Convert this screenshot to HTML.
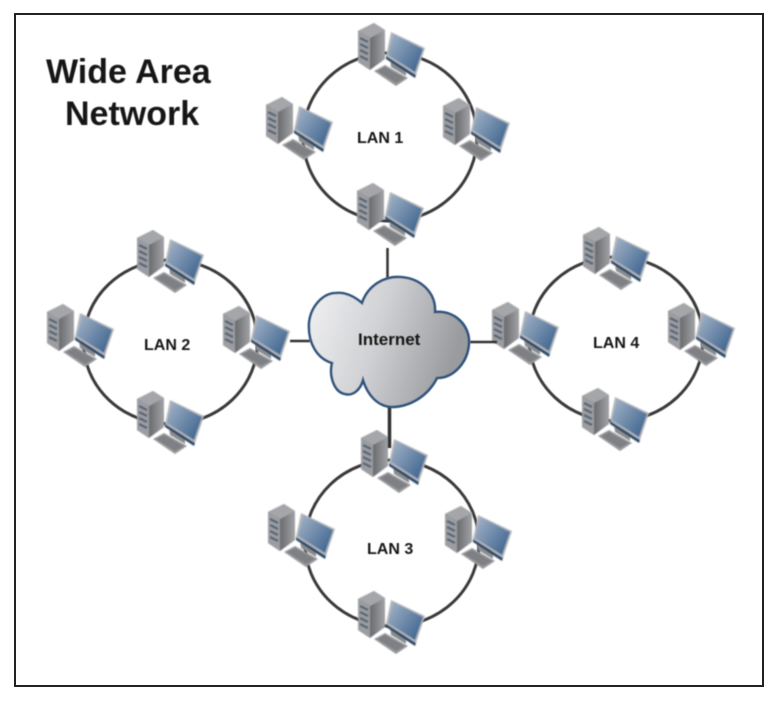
<!DOCTYPE html>
<html><head><meta charset="utf-8"><style>
html,body{margin:0;padding:0;background:#fff;width:779px;height:705px;overflow:hidden}
svg{display:block}
text{font-family:"Liberation Sans",Arial,sans-serif;font-weight:bold;fill:#161616}
</style></head><body>
<svg width="779" height="705" viewBox="0 0 779 705" xmlns="http://www.w3.org/2000/svg">
<defs>
<linearGradient id="tw" x1="0" y1="0" x2="1" y2="0"><stop offset="0" stop-color="#3f4043"/><stop offset=".55" stop-color="#747578"/><stop offset="1" stop-color="#a2a3a6"/></linearGradient>
<linearGradient id="sc" x1="0" y1="0" x2="1" y2="0.8"><stop offset="0" stop-color="#a5b5c8"/><stop offset="1" stop-color="#3f6590"/></linearGradient>
<linearGradient id="cl" x1="0" y1="0" x2="1" y2="0.25"><stop offset="0" stop-color="#f2f2f4"/><stop offset=".5" stop-color="#d0d1d4"/><stop offset="1" stop-color="#9a9b9e"/></linearGradient>
<filter id="b" x="-10%" y="-10%" width="120%" height="120%"><feGaussianBlur stdDeviation="0.85"/></filter>
<filter id="t" x="-10%" y="-10%" width="120%" height="120%"><feGaussianBlur stdDeviation="0.6"/></filter>
<g id="pc" filter="url(#b)">
  <path d="M0 8 L16 0 L27 7 L27 36 L12 47 L0 39Z" fill="url(#tw)"/>
  <path d="M0 8 L16 0 L27 7 L12 15Z" fill="#a5a6a9"/>
  <path d="M0 8 L12 15 L12 47 L0 39Z" fill="#9c9da0"/>
  <path d="M2 15 L10 19 M2 21 L10 25 M2 27 L10 31 M2 33 L10 37" stroke="#4d6075" stroke-width="2.2" fill="none"/>
  <path d="M32 36 L48 45 L48 53 L33 44Z" fill="#8b8c8f"/>
  <path d="M33 9 L67 25 L58 52 L28 33Z" fill="#b4b6ba"/>
  <path d="M35 11 L65 26 L57 49 L30 32Z" fill="url(#sc)"/>
  <path d="M28 33 L58 52 L57 55 L28 36Z" fill="#264868"/>
  <path d="M16 48 L27 42 L50 55 L38 63Z" fill="#97989b"/>
  <path d="M19 48 L27 44 L47 55 L38 60Z" fill="#7f8084"/>
</g>
</defs>
<rect width="779" height="705" fill="#fff"/>
<rect x="15" y="14" width="748" height="672" fill="none" stroke="#222" stroke-width="2"/>

<g fill="none" stroke="#3a3a3a" stroke-width="3" filter="url(#t)">
  <ellipse cx="390" cy="137" rx="87" ry="84"/>
  <ellipse cx="170.500" cy="342" rx="87" ry="82"/>
  <ellipse cx="616" cy="339" rx="87" ry="82"/>
  <ellipse cx="392" cy="543" rx="87" ry="83"/>
</g>

<use href="#pc" x="358" y="23"/><use href="#pc" x="266" y="97"/><use href="#pc" x="443" y="98"/><use href="#pc" x="357" y="183"/>
<use href="#pc" x="137" y="230"/><use href="#pc" x="47" y="304"/><use href="#pc" x="223" y="306"/><use href="#pc" x="137" y="391"/>
<use href="#pc" x="583" y="227"/><use href="#pc" x="492" y="302"/><use href="#pc" x="668" y="303"/><use href="#pc" x="582" y="388"/>
<use href="#pc" x="361" y="430"/><use href="#pc" x="268" y="504"/><use href="#pc" x="445" y="506"/><use href="#pc" x="358" y="591"/>

<g fill="none" stroke="#333" stroke-width="2.5" filter="url(#t)">
  <path d="M387.500 248V278"/>
  <path d="M290 341H310"/>
  <path d="M470 342H497"/>
  <path d="M389.500 405V448" stroke-width="3.500"/>
</g>

<path d="M362 303 C368 285 385 276 400 277 C420 278 436 292 435 312 C455 310 470 326 469 343 C468 362 454 378 437 378 C428 396 410 407 391 407 C378 406 368 396 363 380 C360 391 352 396 345 394 C334 392 329 376 332 363 C316 358 308 342 309 323 C311 305 324 293 336 293 C346 292 355 297 362 303Z" fill="url(#cl)" stroke="#2f557d" stroke-width="2.6" filter="url(#t)"/>

<g filter="url(#t)">
<text x="46" y="83" font-size="34">Wide Area</text>
<text x="65" y="125" font-size="34">Network</text>
<text x="357" y="143" font-size="16">LAN 1</text>
<text x="144" y="350" font-size="16">LAN 2</text>
<text x="593" y="348" font-size="16">LAN 4</text>
<text x="367" y="554" font-size="16">LAN 3</text>
<text x="358" y="345" font-size="17">Internet</text>
</g>
</svg>
</body></html>
